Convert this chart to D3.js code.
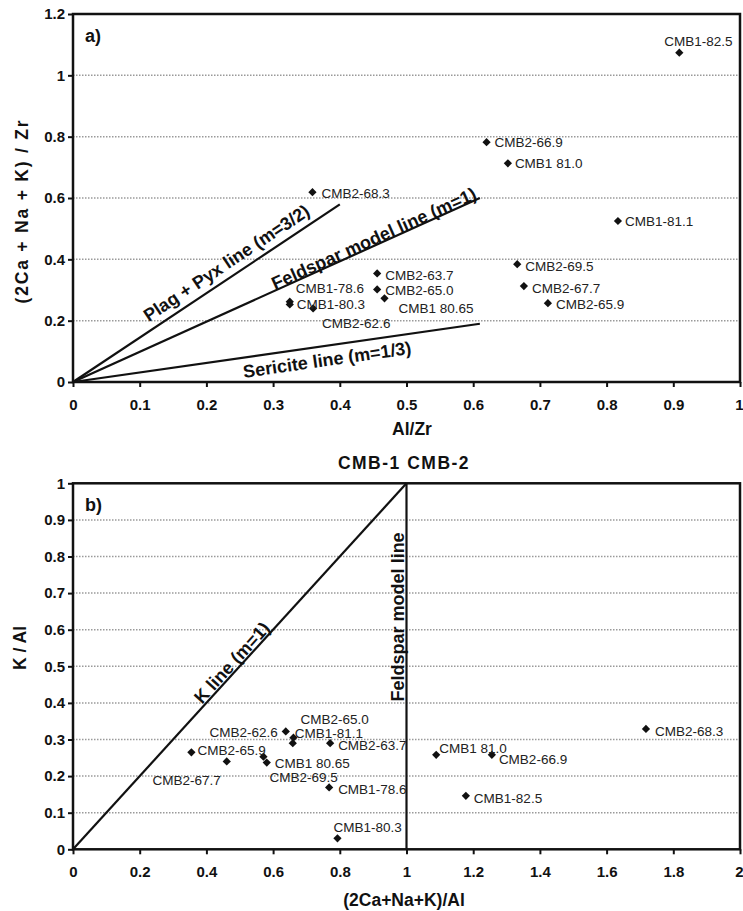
<!DOCTYPE html>
<html>
<head>
<meta charset="utf-8">
<script src="https://cdn.jsdelivr.net/npm/d3@7"></script>
<style>
  body { margin: 0; background: #fff; }
  svg text { font-family: "Liberation Sans", Arial, sans-serif; }
</style>
</head>
<body>
<main></main>
<script>
// sample names, same order in both panels
var samples = ['CMB1-82.5', 'CMB2-66.9', 'CMB1 81.0', 'CMB1-81.1', 'CMB2-68.3', 'CMB2-63.7', 'CMB2-65.0',
  'CMB1 80.65', 'CMB2-69.5', 'CMB2-67.7', 'CMB2-65.9', 'CMB1-78.6', 'CMB1-80.3', 'CMB2-62.6'];

// panel a
var alZr     = [0.909, 0.620, 0.652, 0.817, 0.359, 0.456, 0.456, 0.467, 0.666, 0.676, 0.712, 0.325, 0.325, 0.360];
var caNaKZr  = [1.074, 0.782, 0.713, 0.525, 0.619, 0.354, 0.302, 0.273, 0.384, 0.313, 0.257, 0.262, 0.253, 0.240];

// panel b
var caNaKAl  = [1.178, 1.256, 1.089, 0.659, 1.718, 0.771, 0.661, 0.581, 0.571, 0.461, 0.355, 0.768, 0.793, 0.638];
var kAl      = [0.146, 0.258, 0.258, 0.290, 0.329, 0.290, 0.305, 0.237, 0.253, 0.240, 0.265, 0.169, 0.030, 0.322];

// ticks
var xTicksA = [0, 0.1, 0.2, 0.3, 0.4, 0.5, 0.6, 0.7, 0.8, 0.9, 1];
var yTicksA = [0, 0.2, 0.4, 0.6, 0.8, 1, 1.2];
var xTicksB = [0, 0.2, 0.4, 0.6, 0.8, 1, 1.2, 1.4, 1.6, 1.8, 2];
var yTicksB = [0, 0.1, 0.2, 0.3, 0.4, 0.5, 0.6, 0.7, 0.8, 0.9, 1];

// reference lines [x0, y0, x1, y1]
var linesA = [
  { name: 'Plag + Pyx line (m=3/2)', pts: [0, 0, 0.4, 0.579], lx: 0.230, ly: 0.388 },
  { name: 'Feldspar model line (m=1)', pts: [0, 0, 0.61, 0.6], lx: 0.451, ly: 0.468 },
  { name: 'Sericite line (m=1/3)', pts: [0, 0, 0.61, 0.19], lx: 0.381, ly: 0.073 }
];
var linesB = [
  { name: 'K line (m=1)', pts: [0, 0, 1, 1], lx: 0.476, ly: 0.510 },
  { name: 'Feldspar model line', pts: [1, 0, 1, 1], lx: 0.975, ly: 0.635 }
];

// label offsets [dx, dy, anchor] per sample
var labA = [[-15,-11],[8,0],[7,0],[7,0],[9,1],[8,2],[8,1],[14,10],[8,2],[8,2],[8,1],[6,-13],[7,0],[9,15]];
var labB = [[8,2],[7,4],[3,-7],[2,-10],[9,2],[8,2],[7,-18],[8,1],[6,21],[-6,19,'end'],[6,-2],[9,2],[-4,-11],[-8,1,'end']];

var svg = d3.select('main').append('svg')
    .attr('width', 743)
    .attr('height', 911);

var fmt = d => String(+d.toFixed(1));

function panel(o) {
  var x = d3.scaleLinear().domain(o.xd).range([73, 740]);
  var y = d3.scaleLinear().domain(o.yd).range(o.yr);
  var g = svg.append('g');

  // grid
  g.selectAll('.grid').data(o.yt.slice(1, -1)).enter().append('line')
    .attr('x1', 73).attr('x2', 740)
    .attr('y1', d => y(d)).attr('y2', d => y(d))
    .attr('stroke', '#9a9a9a').attr('stroke-width', 1.5)
    .attr('stroke-dasharray', '1.5,1.5');

  var ax = g.append('g').attr('transform', 'translate(0,' + o.yr[0] + ')')
    .call(d3.axisBottom(x).tickValues(o.xt).tickFormat(fmt).tickSize(5).tickPadding(12));
  var ay = g.append('g').attr('transform', 'translate(73,0)')
    .call(d3.axisLeft(y).tickValues(o.yt).tickFormat(fmt).tickSize(5).tickPadding(3));
  [ax, ay].forEach(a => {
    a.select('.domain').remove();
    a.selectAll('line').attr('stroke', '#111').attr('stroke-width', 2);
    a.selectAll('text').attr('font-size', 15).attr('font-weight', 'bold').attr('fill', '#111');
  });
  // last x label sits at the page edge
  ax.selectAll('text').filter((d, i, n) => i === n.length - 1)
    .attr('text-anchor', 'end').attr('x', 3);

  // frame
  g.append('rect')
    .attr('x', 73).attr('y', o.yr[1])
    .attr('width', 667).attr('height', o.yr[0] - o.yr[1])
    .attr('fill', 'none').attr('stroke', '#111').attr('stroke-width', 2.5);

  // reference lines + labels
  o.lines.forEach(l => {
    var p = l.pts;
    g.append('line')
      .attr('x1', x(p[0])).attr('y1', y(p[1]))
      .attr('x2', x(p[2])).attr('y2', y(p[3]))
      .attr('stroke', '#111').attr('stroke-width', 2.2);
    var ang = Math.atan2(y(p[3]) - y(p[1]), x(p[2]) - x(p[0])) * 180 / Math.PI;
    g.append('text')
      .attr('transform', 'translate(' + x(l.lx) + ',' + y(l.ly) + ') rotate(' + ang + ')')
      .attr('text-anchor', 'middle').attr('dy', '0.35em')
      .attr('font-size', 18).attr('font-weight', 'bold').attr('fill', '#111')
      .text(l.name);
  });

  // points
  var pts = samples.map((s, i) => ({ name: s, x: o.xs[i], y: o.ys[i], lab: o.lab[i] }));
  g.selectAll('.pt').data(pts).enter().append('path')
    .attr('d', d3.symbol(d3.symbolSquare, 34))
    .attr('transform', d => 'translate(' + x(d.x) + ',' + y(d.y) + ') rotate(45)')
    .attr('fill', '#111');
  g.selectAll('.lab').data(pts).enter().append('text')
    .attr('x', d => x(d.x) + d.lab[0])
    .attr('y', d => y(d.y) + d.lab[1])
    .attr('dy', '0.35em')
    .attr('text-anchor', d => d.lab[2] || 'start')
    .attr('font-size', 13.5).attr('fill', '#222')
    .text(d => d.name);

  // panel letter
  g.append('text').attr('x', 85).attr('y', o.yr[1] + 28)
    .attr('font-size', 18).attr('font-weight', 'bold').attr('fill', '#111')
    .text(o.letter);
}

panel({ xd: [0, 1], yd: [0, 1.2], yr: [382, 14], xt: xTicksA, yt: yTicksA,
  xs: alZr, ys: caNaKZr, lines: linesA, lab: labA, letter: 'a)' });
panel({ xd: [0, 2], yd: [0, 1], yr: [849.3, 483.3], xt: xTicksB, yt: yTicksB,
  xs: caNaKAl, ys: kAl, lines: linesB, lab: labB, letter: 'b)' });

// titles
function title(t, x, y, rot, ls) {
  svg.append('text')
    .attr('transform', 'translate(' + x + ',' + y + ')' + (rot ? ' rotate(-90)' : ''))
    .attr('text-anchor', 'middle')
    .attr('font-size', 17.5).attr('font-weight', 'bold').attr('fill', '#111')
    .attr('letter-spacing', ls || 0)
    .text(t);
}
title('Al/Zr', 412, 435);
title('(2Ca + Na + K) / Zr', 28, 211, true, 1.8);
title('CMB-1 CMB-2', 404, 469, false, 1.5);
title('K / Al', 25.5, 648, true);
title('(2Ca+Na+K)/Al', 404, 906);
</script>
</body>
</html>
